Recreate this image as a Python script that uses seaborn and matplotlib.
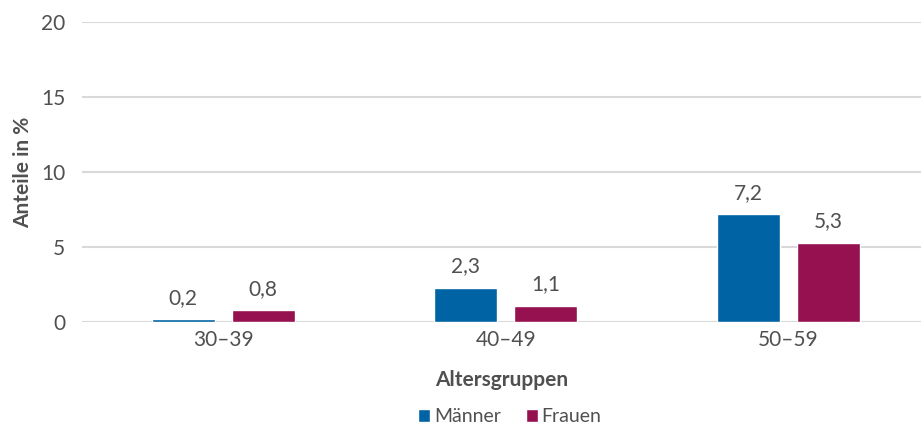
import matplotlib
matplotlib.use("Agg")
import matplotlib.pyplot as plt
import seaborn as sns
import pandas as pd
from matplotlib.patches import Patch

categories = ["30–39", "40–49", "50–59"]
maenner = [0.2, 2.3, 7.2]
frauen = [0.8, 1.1, 5.3]
series_names = ["Männer", "Frauen"]
colors = ["#0063A3", "#95114F"]
yticks = [0, 5, 10, 15, 20]

sns.set_theme(style="white")
plt.rcParams["font.family"] = ["Lato", "DejaVu Sans"]
text_color = "#505050"

df = pd.DataFrame({
    "Altersgruppen": categories * 2,
    "Wert": maenner + frauen,
    "Geschlecht": [series_names[0]] * 3 + [series_names[1]] * 3,
})

fig = plt.figure(figsize=(9.21, 4.25), dpi=100)
ax = fig.add_axes([82 / 921, 1 - 322 / 425, 1 - 82 / 921, 300 / 425])

sns.barplot(data=df, x="Altersgruppen", y="Wert", hue="Geschlecht",
            palette=colors, width=0.566, gap=0.21, ax=ax, legend=False,
            saturation=1)

for c in ax.containers:
    ax.bar_label(c, labels=[f"{v:.1f}".replace(".", ",") for v in c.datavalues],
                 padding=8, fontsize=15, color=text_color)

ax.set_ylim(0, 20)
ax.set_xlim(-0.5, 2.47)
ax.set_yticks(yticks)
ax.set_yticklabels([str(t) for t in yticks])
ax.yaxis.grid(True, color="#d9d9d9", linewidth=1.5)
ax.set_axisbelow(True)
for s in ax.spines.values():
    s.set_visible(False)
ax.tick_params(axis="both", length=0, labelsize=15, labelcolor=text_color)
ax.tick_params(axis="y", pad=12)
ax.tick_params(axis="x", pad=6)

ax.set_ylabel("Anteile in %", fontsize=15, fontweight="bold", color=text_color, labelpad=6)
ax.set_xlabel("Altersgruppen", fontsize=15, fontweight="bold", color=text_color, labelpad=14)

handles = [Patch(facecolor=colors[i], label=series_names[i]) for i in range(2)]
fig.legend(handles=handles, loc="center", bbox_to_anchor=(510 / 921, 1 - 417 / 425),
           ncol=2, frameon=False, fontsize=14, handlelength=0.6, handleheight=0.6,
           handletextpad=0.2, columnspacing=1.3, labelcolor=text_color)

fig.savefig("out.png", dpi=100)
